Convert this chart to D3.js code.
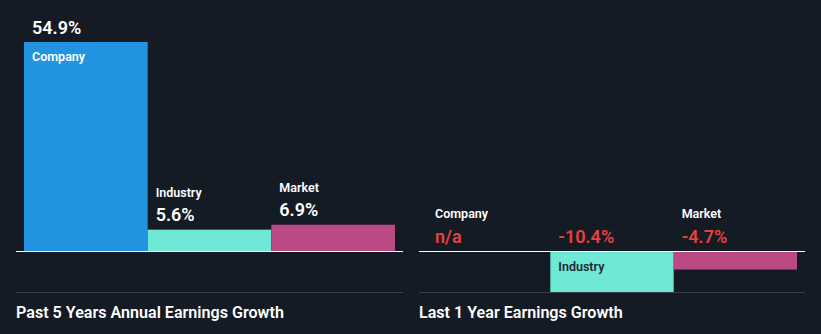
<!DOCTYPE html>
<html>
<head>
<meta charset="utf-8">
<script src="https://cdn.jsdelivr.net/npm/d3@7"></script>
<style>
  html, body { margin: 0; padding: 0; background: #151b24; }
  svg { display: block; font-family: Roboto, "Noto Sans", sans-serif; }
</style>
</head>
<body>
<svg id="chart" width="821" height="334"></svg>
<script>
const categories = ["Company", "Industry", "Market"];
const past5Values = [54.9, 5.6, 6.9];
const past5Labels = ["54.9%", "5.6%", "6.9%"];
const last1Values = [null, -10.4, -4.7];
const last1Labels = ["n/a", "-10.4%", "-4.7%"];
const panelTitles = ["Past 5 Years Annual Earnings Growth", "Last 1 Year Earnings Growth"];
const colors = ["#2394df", "#6fe8d6", "#b94a84"];

const svg = d3.select("#chart");
svg.append("rect").attr("width", 821).attr("height", 334).attr("fill", "#151b24");

function panel(cfg) {
  const g = svg.append("g");
  const x = d3.scaleBand().domain(categories).range(cfg.barRange).padding(0);
  const y = d3.scaleLinear().domain(cfg.domain).range(cfg.yRange);
  const y0 = y(0);

  // bars
  categories.forEach((c, i) => {
    const v = cfg.values[i];
    if (v === null) return;
    const top = Math.min(y(v), y0), h = Math.abs(y(v) - y0);
    g.append("rect")
      .attr("x", x(c)).attr("y", top)
      .attr("width", x.bandwidth()).attr("height", h)
      .attr("fill", colors[i]);
  });

  // baseline
  g.append("line")
    .attr("x1", cfg.lineRange[0]).attr("x2", cfg.lineRange[1])
    .attr("y1", y0 + 0.5).attr("y2", y0 + 0.5)
    .attr("stroke", "#ffffff").attr("stroke-width", 1.2);

  // labels
  categories.forEach((c, i) => {
    const v = cfg.values[i];
    const tx = x(c) + 8;
    const valColor = (v === null || v < 0) ? "#e64141" : "#ffffff";
    if (v !== null && v >= 0) {
      const top = y(v);
      const tall = (y0 - top) > 60;
      if (tall) {
        g.append("text").attr("x", tx).attr("y", top - 8)
          .attr("fill", "#ffffff").attr("font-size", 18).attr("font-weight", 600).text(cfg.labels[i]);
        g.append("text").attr("x", tx).attr("y", top + 19)
          .attr("fill", "#ffffff").attr("font-size", 12.5).attr("font-weight", 600).text(c);
      } else {
        g.append("text").attr("x", tx).attr("y", top - 33)
          .attr("fill", "#ffffff").attr("font-size", 12.5).attr("font-weight", 600).text(c);
        g.append("text").attr("x", tx).attr("y", top - 8.5)
          .attr("fill", valColor).attr("font-size", 18).attr("font-weight", 600).text(cfg.labels[i]);
      }
    } else {
      const bottom = v === null ? y0 : y(v);
      const deep = (bottom - y0) > 30;
      g.append("text").attr("x", tx).attr("y", y0 - 8)
        .attr("fill", valColor).attr("font-size", 18).attr("font-weight", 600).text(cfg.labels[i]);
      if (deep) {
        g.append("text").attr("x", tx).attr("y", y0 + 20)
          .attr("fill", "#1d2a33").attr("font-size", 12.5).attr("font-weight", 600).text(c);
      } else {
        g.append("text").attr("x", tx).attr("y", y0 - 33)
          .attr("fill", "#ffffff").attr("font-size", 12.5).attr("font-weight", 600).text(c);
      }
    }
  });

  // separator
  g.append("line")
    .attr("x1", cfg.lineRange[0]).attr("x2", cfg.lineRange[1])
    .attr("y1", 292.5).attr("y2", 292.5)
    .attr("stroke", "#3b4048").attr("stroke-width", 1);

  // title
  g.append("text").attr("x", cfg.lineRange[0]).attr("y", 318)
    .attr("fill", "#ffffff").attr("font-size", 16.1).attr("font-weight", 600)
    .text(cfg.title);
}

panel({
  values: past5Values, labels: past5Labels, title: panelTitles[0],
  barRange: [24, 395], lineRange: [16, 403],
  domain: [0, 54.9], yRange: [251, 42]
});
panel({
  values: last1Values, labels: last1Labels, title: panelTitles[1],
  barRange: [427, 797], lineRange: [419, 805],
  domain: [-10.4, 0], yRange: [292, 251]
});
</script>
</body>
</html>
